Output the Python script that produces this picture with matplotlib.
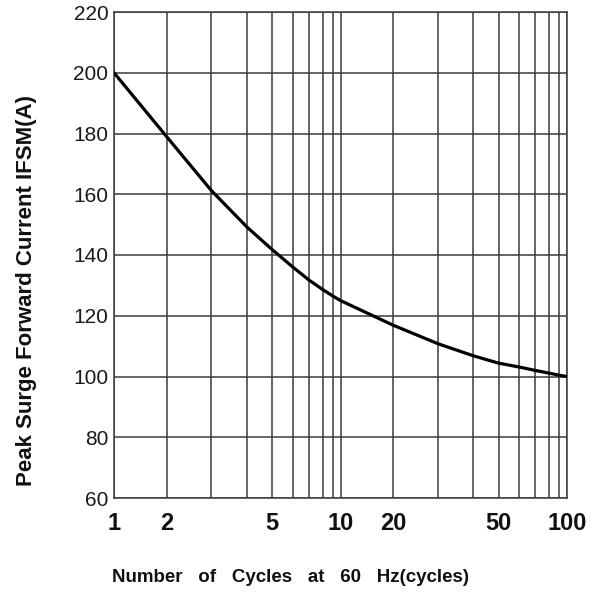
import matplotlib
matplotlib.use("Agg")
import matplotlib.pyplot as plt
import numpy as np

# Surge curve
cycles = [1, 2, 3, 4, 5, 6, 7, 8, 9, 10, 20, 30, 40, 50, 60, 70, 80, 90, 100]
ifsm = [200, 179.0, 161.2, 149.2, 141.8, 136.0, 131.8, 128.6, 126.5, 125.0,
        116.9, 110.8, 106.8, 104.4, 103.1, 102.0, 101.1, 100.4, 100.0]

x_ticks = [1, 2, 5, 10, 20, 50, 100]
x_ticklabels = ['1', '2', '5', '10', '20', '50', '100']
y_ticks = [60, 80, 100, 120, 140, 160, 180, 200, 220]
grid_x = [1, 2, 3, 4, 5, 6, 7, 8, 9, 10, 20, 30, 40, 50, 60, 70, 80, 90, 100]

# The printed log paper is slightly off a true log scale; these are the
# measured positions of the 1..10 lines inside one decade.
decade_frac = [0, 0.232, 0.430, 0.587, 0.698, 0.790, 0.860, 0.922, 0.966, 1.0]
mant = np.arange(1, 11)


def fwd(x):
    x = np.clip(np.asarray(x, dtype=float), 1e-6, None)
    d = np.floor(np.log10(x) + 1e-12)
    m = x / 10.0 ** d
    return d + np.interp(m, mant, decade_frac)


def inv(u):
    u = np.asarray(u, dtype=float)
    d = np.floor(u)
    return 10.0 ** d * np.interp(u - d, decade_frac, mant)


plt.rcParams['font.family'] = ['Liberation Sans', 'DejaVu Sans']

fig = plt.figure(figsize=(6.01, 5.95), dpi=100)
ax = fig.add_axes([114 / 601, 1 - 498 / 595, 453 / 601, 486 / 595])

ax.set_xscale('function', functions=(fwd, inv))
ax.set_xlim(1, 100)
ax.set_ylim(60, 220)

ax.plot(cycles, ifsm, color='black', lw=2.3, solid_capstyle='round',
        solid_joinstyle='round', zorder=3)

# grid
grid_col = '#3c3c3c'
for gx in grid_x:
    ax.axvline(gx, color=grid_col, lw=1.1, zorder=1)
for gy in y_ticks:
    ax.axhline(gy, color=grid_col, lw=1.1, zorder=1)
for s in ax.spines.values():
    s.set_color(grid_col)
    s.set_linewidth(1.1)

ax.set_xticks(x_ticks)
ax.set_xticklabels(x_ticklabels, fontsize=17, fontweight='bold', color='#111111')
ax.set_xticks([], minor=True)
ax.set_yticks(y_ticks)
ax.set_yticklabels([str(v) for v in y_ticks], fontsize=15, color='#1a1a1a')
ax.tick_params(axis='both', which='both', length=0)
ax.tick_params(axis='x', pad=10)
ax.tick_params(axis='y', pad=4)

fig.text(290 / 601, 1 - 577 / 595, 'Number   of   Cycles   at   60   Hz(cycles)',
         fontsize=13.5, fontweight='bold', color='#111111', ha='center', va='center')
fig.text(27 / 601, 1 - 290 / 595, 'Peak Surge Forward Current IFSM(A)',
         fontsize=16, fontweight='bold', color='#111111', ha='center', va='center',
         rotation=90)

fig.savefig('out.png', dpi=100)
